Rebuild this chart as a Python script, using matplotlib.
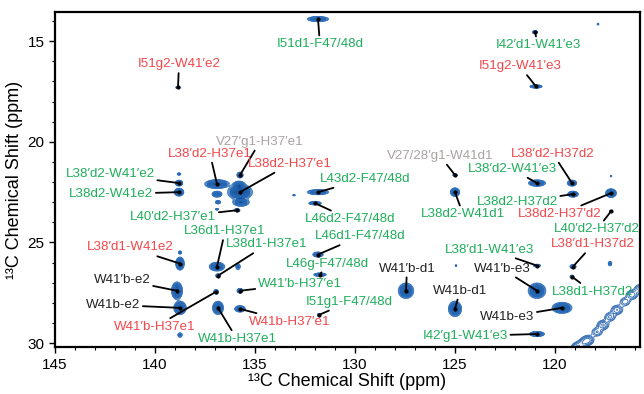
import numpy as np
import matplotlib.pyplot as plt
from matplotlib.ticker import MultipleLocator

plt.rcParams['font.family'] = ['Liberation Sans', 'DejaVu Sans']

# assigned cross peaks (ppm), label text and label colour group
names = [
    "I51d1-F47/48d", "I51g2-W41′e2", "I42′d1-W41′e3", "I51g2-W41′e3",
    "L38′d2-W41′e2", "L38d2-W41e2", "L38′d2-H37e1", "V27′g1-H37′e1",
    "L38d2-H37′e1", "L43d2-F47/48d", "L46d2-F47/48d", "L40′d2-H37′e1",
    "L36d1-H37e1", "L38d1-H37e1", "L38′d1-W41e2", "W41′b-e2", "W41b-e2",
    "W41′b-H37e1", "W41b-H37e1", "W41′b-H37′e1", "W41b-H37′e1",
    "L46d1-F47/48d", "L46g-F47/48d", "I51g1-F47/48d", "W41′b-d1", "W41b-d1",
    "V27/28′g1-W41d1", "L38d2-W41d1", "L38′d2-W41′e3", "L38′d2-H37d2",
    "L38d2-H37d2", "L38d2-H37′d2", "L40′d2-H37′d2", "L38′d1-H37d2",
    "L38d1-H37d2", "L38′d1-W41′e3", "W41′b-e3", "W41b-e3", "I42′g1-W41′e3",
]
groups = [
    "g", "r", "g", "r",
    "g", "g", "r", "k2",
    "r", "g", "g", "g",
    "g", "g", "r", "k", "k",
    "r", "g", "g", "r",
    "g", "g", "g", "k", "k",
    "k2", "g", "g", "r",
    "g", "r", "g", "r",
    "g", "g", "k", "k", "g",
]
peak_x = [131.85, 138.85, 121.0, 120.95,
          138.8, 138.8, 136.9, 135.75,
          135.75, 131.85, 132.0, 135.9,
          136.9, 136.85, 138.75, 138.9, 138.75,
          136.95, 136.85, 135.75, 135.75,
          131.85, 131.75, 131.8, 127.45, 125.0,
          125.0, 125.0, 120.9, 119.15,
          119.1, 117.2, 117.2, 119.1,
          119.15, 120.9, 120.9, 119.65, 120.9]
peak_y = [13.9, 17.3, 14.55, 17.25,
          22.05, 22.5, 22.1, 21.65,
          22.5, 22.5, 23.05, 23.4,
          26.2, 26.65, 26.05, 27.4, 28.25,
          27.45, 28.25, 27.4, 28.3,
          25.6, 26.6, 28.6, 27.4, 28.3,
          21.65, 22.5, 22.05, 22.05,
          22.6, 22.55, 23.45, 26.2,
          26.7, 26.15, 27.4, 28.25, 29.55]
peak_hwx = [0.5, 0.12, 0.14, 0.3,
            0.18, 0.22, 0.55, 0.15,
            0.55, 0.5, 0.3, 0.15,
            0.35, 0.12, 0.2, 0.25, 0.28,
            0.12, 0.25, 0.15, 0.25,
            0.25, 0.3, 0.1, 0.35, 0.3,
            0.12, 0.22, 0.4, 0.22,
            0.25, 0.25, 0.08, 0.15,
            0.1, 0.18, 0.4, 0.45, 0.35]
peak_hwy = [0.12, 0.06, 0.08, 0.08,
            0.14, 0.18, 0.2, 0.14,
            0.35, 0.12, 0.08, 0.08,
            0.2, 0.1, 0.3, 0.4, 0.3,
            0.12, 0.3, 0.12, 0.15,
            0.12, 0.08, 0.08, 0.35, 0.35,
            0.07, 0.2, 0.15, 0.14,
            0.14, 0.2, 0.06, 0.1,
            0.08, 0.07, 0.35, 0.25, 0.12]
peak_amp = [1.0, 0.5, 0.6, 0.8,
            0.9, 1.2, 1.3, 0.9,
            1.4, 1.0, 0.9, 0.7,
            1.2, 0.6, 1.1, 1.2, 1.3,
            0.6, 1.2, 0.7, 1.0,
            0.9, 0.9, 0.4, 1.2, 1.2,
            0.5, 1.0, 1.0, 1.0,
            1.0, 1.1, 0.5, 0.8,
            0.6, 0.7, 1.2, 1.2, 1.0]
label_x = [131.75, 138.8, 120.85, 121.75,
           142.25, 142.2, 137.25, 134.75,
           133.25, 129.5, 130.25, 139.1,
           136.5, 134.4, 141.25, 141.65, 142.1,
           140.0, 135.9, 132.75, 133.25,
           129.75, 131.4, 130.3, 127.4, 124.75,
           125.75, 124.6, 122.15, 120.1,
           121.9, 119.75, 117.9, 118.1,
           118.15, 123.25, 122.65, 122.4, 124.5]
label_y = [15.15, 16.15, 15.2, 16.25,
           21.6, 22.6, 20.6, 20.0,
           21.1, 21.85, 23.85, 23.75,
           24.45, 25.1, 25.25, 26.85, 28.1,
           29.2, 29.8, 27.05, 28.95,
           24.7, 26.05, 27.95, 26.3, 27.4,
           20.7, 23.6, 21.35, 20.6,
           23.0, 23.6, 24.35, 25.1,
           27.45, 25.35, 26.3, 28.7, 29.65]

# unassigned signals
extra_x = [138.8, 136.9, 136.85, 135.7, 135.8, 133.05, 138.75, 135.85,
           138.75, 117.25, 117.85, 117.2, 124.95, 136.9]
extra_y = [21.6, 22.6, 23.0, 23.0, 22.15, 22.65, 29.6, 26.2,
           25.5, 26.05, 14.15, 21.7, 26.15, 23.35]
extra_hwx = [0.1, 0.25, 0.15, 0.4, 0.3, 0.08, 0.15, 0.15,
             0.1, 0.12, 0.05, 0.05, 0.05, 0.1]
extra_hwy = [0.06, 0.15, 0.1, 0.2, 0.2, 0.04, 0.15, 0.2,
             0.1, 0.15, 0.05, 0.05, 0.05, 0.05]
extra_amp = [0.5, 0.7, 0.4, 0.8, 0.7, 0.3, 0.25, 0.25,
             0.3, 0.25, 0.4, 0.3, 0.3, 0.3]

# diagonal ridge in the lower right corner (contour lines only)
ridge_x = [118.9, 118.6, 118.35, 117.9, 117.6, 117.25, 116.9, 116.5, 116.15, 115.75]
ridge_y = [30.2, 30.0, 29.85, 29.45, 29.1, 28.7, 28.35, 27.95, 27.6, 27.3]
ridge_amp = [0.2, 0.14, 0.22, 0.15, 0.21, 0.16, 0.2, 0.14, 0.19, 0.17]

colors = {"g": "#1fae5b", "r": "#f2474a", "k": "#222222", "k2": "#a9a3a3"}

fig = plt.figure(figsize=(6.44, 3.94), dpi=100)
ax = fig.add_axes([0.0854, 0.119, 0.9084, 0.8505])

# build the spectrum from the peak lists
gx = np.linspace(115.5, 145.2, 1500)
gy = np.linspace(13.3, 30.5, 900)
X, Y = np.meshgrid(gx, gy)


def field(xs, ys, hx, hy, a):
    z = np.zeros_like(X)
    for cx, cy, wx, wy, amp in zip(xs, ys, hx, hy, a):
        sx, sy = wx / 2.2, wy / 2.2
        z += amp * np.exp(-0.5 * (((X - cx) / sx) ** 2 + ((Y - cy) / sy) ** 2))
    return z


Z = field(peak_x, peak_y, peak_hwx, peak_hwy, peak_amp)
Z += field(extra_x, extra_y, extra_hwx, extra_hwy, extra_amp)
Zr = field(ridge_x, ridge_y, [0.4] * len(ridge_x), [0.32] * len(ridge_x), ridge_amp)

line_levels = 0.06 * 1.35 ** np.arange(0, 12)
ax.contour(X, Y, Z, levels=line_levels, colors="#2f6fba", linewidths=0.5)
ax.contourf(X, Y, Z, levels=[0.21, 10], colors=["#0c4c95"])
ax.contour(X, Y, Zr, levels=line_levels[:6], colors="#2a66b0", linewidths=0.6)

# peak markers, labels and leader lines
for name, grp, px, py, lx, ly in zip(names, groups, peak_x, peak_y, label_x, label_y):
    ax.annotate(name, xy=(px, py), xytext=(lx, ly), ha="center", va="center",
                fontsize=9.6, color=colors[grp],
                arrowprops=dict(arrowstyle="-", color="black", lw=1.3,
                                shrinkA=0, shrinkB=0))
    ax.plot(px, py, "o", color="black", ms=2)

ax.set_xlim(145, 115.75)
ax.set_ylim(30.2, 13.55)
ax.xaxis.set_major_locator(MultipleLocator(5))
ax.xaxis.set_minor_locator(MultipleLocator(1))
ax.yaxis.set_major_locator(MultipleLocator(5))
ax.yaxis.set_minor_locator(MultipleLocator(1))
ax.tick_params(which="major", direction="out", length=4, width=1, labelsize=11)
ax.tick_params(which="minor", direction="out", length=2, width=0.8)
for sp in ax.spines.values():
    sp.set_linewidth(1.6)

ax.set_xlabel("¹³C Chemical Shift (ppm)", fontsize=13, labelpad=1)
ax.set_ylabel("¹³C Chemical Shift (ppm)", fontsize=13, labelpad=3)

fig.savefig("out.png", dpi=100)
